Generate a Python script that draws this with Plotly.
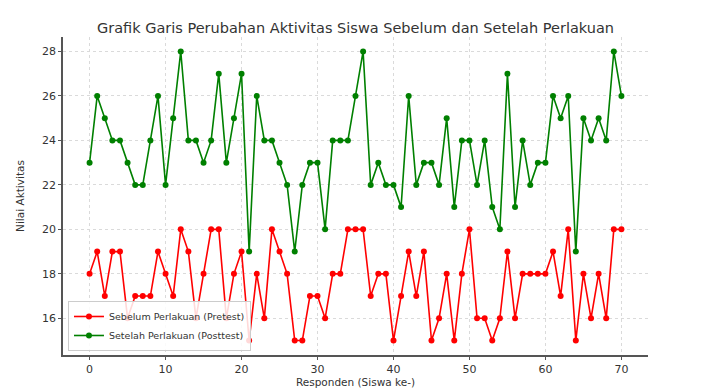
import plotly.graph_objects as go

responden = list(range(71))
pretest = [18, 19, 17, 19, 19, 16, 17, 17, 17, 19, 18, 17, 20, 19, 16, 18, 20, 20, 16, 18,
           19, 15, 18, 16, 20, 19, 18, 15, 15, 17, 17, 16, 18, 18, 20, 20, 20, 17, 18, 18,
           15, 17, 19, 17, 19, 15, 16, 18, 15, 18, 20, 16, 16, 15, 16, 19, 16, 18, 18, 18,
           18, 19, 17, 20, 15, 18, 16, 18, 16, 20, 20]
posttest = [23, 26, 25, 24, 24, 23, 22, 22, 24, 26, 22, 25, 28, 24, 24, 23, 24, 27, 23, 25,
            27, 19, 26, 24, 24, 23, 22, 19, 22, 23, 23, 20, 24, 24, 24, 26, 28, 22, 23, 22,
            22, 21, 26, 22, 23, 23, 22, 25, 21, 24, 24, 22, 24, 21, 20, 27, 21, 24, 22, 23,
            23, 26, 25, 26, 19, 25, 24, 25, 24, 28, 26]
x_ticks = [0, 10, 20, 30, 40, 50, 60, 70]
y_ticks = [16, 18, 20, 22, 24, 26, 28]

FONT = "DejaVu Sans"
TXT = "#333333"
# the page body adds an 8px offset, so the figure is sized/margined to compensate
W, H = 716, 383
L, R, T, B = 55, 76, 29, 36

fig = go.Figure()
fig.add_trace(go.Scatter(x=responden, y=pretest, mode="lines+markers",
                         name="Sebelum Perlakuan (Pretest)",
                         line=dict(color="red", width=1.6),
                         marker=dict(color="red", size=6)))
fig.add_trace(go.Scatter(x=responden, y=posttest, mode="lines+markers",
                         name="Setelah Perlakuan (Posttest)",
                         line=dict(color="green", width=1.6),
                         marker=dict(color="green", size=6)))

axis_common = dict(ticks="outside", ticklen=3, tickcolor="#555555",
                   showline=True, linecolor="#555555", linewidth=1.5,
                   showgrid=True, gridcolor="#dadada", griddash="dot", gridwidth=0.8,
                   zeroline=False, mirror=False, automargin=False,
                   tickfont=dict(family=FONT, size=11, color=TXT))

fig.update_layout(
    width=W, height=H,
    margin=dict(l=L, r=R, t=T, b=B),
    paper_bgcolor="white", plot_bgcolor="white",
    font=dict(family=FONT, size=11, color=TXT),
    title=dict(text="Grafik Garis Perubahan Aktivitas Siswa Sebelum dan Setelah Perlakuan",
               x=(L + (W - R)) / 2 / W, xanchor="center", y=1 - 20 / H, yanchor="middle",
               font=dict(family=FONT, size=14.5, color=TXT)),
    xaxis=dict(range=[-3.5, 73.5], tickvals=x_ticks, **axis_common,
               title=dict(text="Responden (Siswa ke-)", standoff=0,
                          font=dict(family=FONT, size=10.5, color=TXT))),
    yaxis=dict(range=[14.35, 28.65], tickvals=y_ticks, **axis_common,
               title=dict(text="Nilai Aktivitas", standoff=15,
                          font=dict(family=FONT, size=10.5, color=TXT))),
    legend=dict(x=0.0085, y=0.0126, xanchor="left", yanchor="bottom",
                bgcolor="rgba(255,255,255,0.85)", bordercolor="#cccccc", borderwidth=1,
                font=dict(family=FONT, size=9.5, color=TXT),
                itemwidth=30, tracegroupgap=0),
    showlegend=True,
)

fig.write_html("out.html")
